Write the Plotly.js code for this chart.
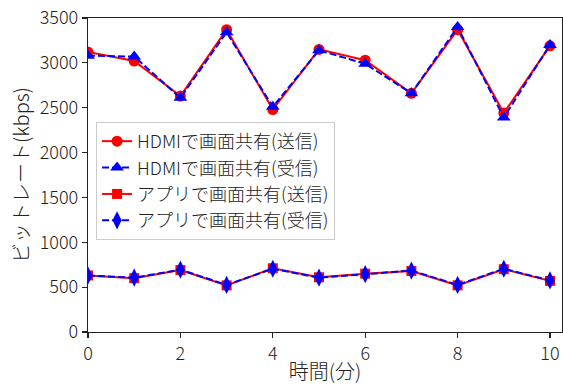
<!DOCTYPE html>
<html>
<head>
<meta charset="utf-8">
<script src="https://cdn.plot.ly/plotly-3.0.1.min.js"></script>
<style>html,body{margin:0;padding:0;background:#fff;}#chart{width:563px;height:385px;}</style>
</head>
<body>
<div id="chart"></div>
<script>
var minutes = [0,1,2,3,4,5,6,7,8,9,10];
var hdmiSend = [3120,3020,2630,3370,2480,3150,3030,2660,3370,2440,3190];
var hdmiRecv = [3080,3070,2610,3340,2510,3140,2990,2660,3400,2390,3200];
var appSend  = [630,600,690,520,710,610,650,680,520,700,570];
var appRecv  = [630,605,695,525,705,605,645,685,525,705,575];
var seriesNames = ["HDMIで画面共有(送信)","HDMIで画面共有(受信)","アプリで画面共有(送信)","アプリで画面共有(受信)"];
var xTitle = "時間(分)";
var yTitle = "ビットレート(kbps)";

var FONT = "'Noto Sans CJK JP', 'Noto Sans', sans-serif";
var W = 300;
var traces = [
  {x:minutes, y:hdmiSend, name:seriesNames[0], mode:"lines+markers",
   line:{color:"#ff0000", width:2}, marker:{symbol:"circle", size:11, color:"#ff0000"}},
  {x:minutes, y:hdmiRecv, name:seriesNames[1], mode:"lines+markers",
   line:{color:"#0000ff", width:2, dash:"7px,3px"}, marker:{symbol:"triangle-up", size:12, color:"#0000ff"}},
  {x:minutes, y:appSend, name:seriesNames[2], mode:"lines+markers",
   line:{color:"#ff0000", width:2}, marker:{symbol:"square", size:10, color:"#ff0000"}},
  {x:minutes, y:appRecv, name:seriesNames[3], mode:"lines+markers",
   line:{color:"#0000ff", width:2, dash:"7px,3px"}, marker:{symbol:"diamond-tall", size:13, color:"#0000ff"}}
];
var axisCommon = {showgrid:false, zeroline:false, showline:true, linecolor:"#222", linewidth:1.2,
  mirror:true, ticks:"outside", ticklen:5, tickwidth:1.2, tickcolor:"#222",
  tickfont:{family:FONT, size:18, color:"#222", weight:W}};
var layout = {
  width:563, height:385,
  margin:{l:88, r:1, t:18, b:53},
  paper_bgcolor:"#fff", plot_bgcolor:"#fff",
  font:{family:FONT, color:"#222", weight:W},
  showlegend:true,
  xaxis:Object.assign({}, axisCommon, {range:[0,10.26], tickvals:[0,2,4,6,8,10],
    title:{text:xTitle, font:{family:FONT, size:20, color:"#222", weight:W}, standoff:0}}),
  yaxis:Object.assign({}, axisCommon, {range:[0,3500], tickvals:[0,500,1000,1500,2000,2500,3000,3500],
    title:{text:yTitle, font:{family:FONT, size:20, color:"#222", weight:W}, standoff:4}}),
  legend:{x:0.017, y:0.669, xanchor:"left", yanchor:"top", bgcolor:"rgba(255,255,255,0.8)",
    bordercolor:"#cccccc", borderwidth:1, font:{family:FONT, size:18, color:"#222", weight:W}}
};
Plotly.newPlot("chart", traces, layout, {displayModeBar:false, staticPlot:true});
</script>
</body>
</html>
